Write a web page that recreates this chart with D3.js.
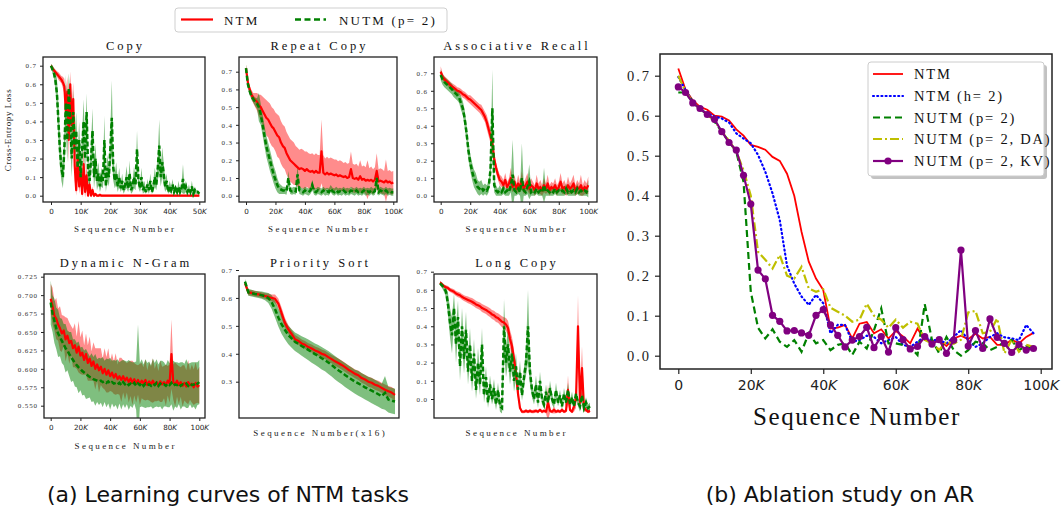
<!DOCTYPE html>
<html><head><meta charset="utf-8">
<script src="https://cdn.jsdelivr.net/npm/d3@7"></script>
<style>body{margin:0;background:#fff}svg{display:block}</style>
</head><body>
<svg id="c" width="1062" height="508"></svg>
<script>
// ---------------- DATA ----------------
// Copy (step 0.5K, 0..50K)
const copyNtm=[.70,.685,.675,.665,.655,.645,.635,.625,.61,.59, .45,.56,.30,.60,.38,.52,.16,.03,.22,.05,
 .14,.01,.17,.02,.11,0,.06,0,.03,0, .01,0,0,.005,0,0,0,0,0,0, 0,0,0,0,0,0,0,0,0,0, 0,0,0,0,0,0,0,0,0,0,
 0,0,0,0,0,0,0,0,0,0, 0,0,0,0,0,0,0,0,0,0, 0,0,0,0,0,0,0,0,0,0, 0,0,0,0,0,0,0,0,0,0,0];
const copyNtmSd=[.01,.01,.01,.015,.015,.02,.02,.02,.03,.04, .10,.08,.12,.07,.10,.09,.08,.03,.09,.04,
 .08,.02,.10,.03,.07,.01,.04,.01,.02,.01, .005,.005,.005,.005,.005,.005,.005,.005,.005,.005,
 .005,.005,.005,.005,.005,.005,.005,.005,.005,.005, .005,.005,.005,.005,.005,.005,.005,.005,.005,.005,
 .005,.005,.005,.005,.005,.005,.005,.005,.005,.005, .005,.005,.005,.005,.005,.005,.005,.005,.005,.005,
 .005,.005,.005,.005,.005,.005,.005,.005,.005,.005, .005,.005,.005,.005,.005,.005,.005,.005,.005,.005,.005];
const copyNutm=[.70,.68,.66,.62,.55,.40,.25,.15,.10,.25, .50,.30,.58,.40,.20,.45,.25,.35,.15,.30,
 .10,.25,.40,.20,.45,.15,.08,.20,.35,.10, .20,.08,.12,.05,.10,.08,.30,.05,.15,.10,
 .25,.42,.15,.08,.12,.05,.10,.04,.08,.03, .06,.10,.04,.12,.03,.05,.10,.06,.25,.08,
 .04,.10,.03,.05,.02,.06,.03,.08,.02,.05, .10,.06,.15,.27,.10,.18,.12,.05,.08,.02,
 .05,.03,.06,.02,.04,.02,.05,.02,.04,.09, .03,.05,.02,.04,.02,.05,.01,.03,.02,.02,.01];
const copyNutmSd=[.01,.02,.03,.05,.08,.10,.09,.07,.06,.10, .15,.12,.08,.14,.10,.12,.09,.10,.08,.10,
 .06,.09,.12,.08,.10,.07,.05,.08,.12,.06, .08,.05,.06,.03,.05,.04,.13,.03,.07,.05,
 .10,.20,.07,.04,.06,.03,.05,.02,.04,.02, .03,.06,.02,.07,.02,.03,.06,.03,.10,.04,
 .02,.05,.02,.03,.01,.03,.02,.04,.01,.03, .05,.03,.07,.14,.05,.08,.06,.03,.04,.01,
 .03,.02,.03,.01,.02,.01,.03,.01,.02,.08, .02,.03,.01,.02,.01,.03,.01,.02,.01,.01,.01];

// Repeat Copy (step 1.25K, 0..100K)
const rcNtm=[.72,.64,.60,.57,.55,.54,.53,.51,.50,.48, .46,.44,.43,.41,.39,.38,.36,.34,.33,.30,
 .28,.27,.24,.22,.20,.19,.18,.17,.16,.15, .155,.15,.14,.15,.14,.135,.14,.13,.14,.13,
 .13,.25,.13,.12,.13,.12,.125,.12,.115,.12, .11,.115,.11,.105,.11,.10,.105,.15,.10,.095,
 .10,.09,.11,.09,.095,.085,.09,.085,.09,.08, .09,.14,.08,.085,.08,.075,.085,.075,.08,.07,.075];
const rcNtmSd=[.02,.02,.02,.025,.03,.04,.05,.06,.07,.08, .09,.10,.10,.11,.11,.11,.11,.12,.12,.12,
 .12,.12,.12,.12,.12,.12,.12,.11,.11,.11, .11,.11,.11,.10,.10,.10,.10,.10,.10,.10,
 .10,.18,.10,.09,.09,.09,.09,.09,.09,.085, .085,.085,.085,.08,.08,.08,.08,.10,.08,.08,
 .08,.075,.09,.075,.075,.075,.11,.07,.075,.07, .07,.10,.07,.07,.07,.065,.12,.065,.065,.065,.065];
const rcNutm=[.72,.63,.59,.56,.545,.53,.52,.50,.46,.40, .34,.28,.24,.20,.16,.12,.09,.06,.04,.035,
 .03,.03,.025,.10,.03,.025,.03,.025,.12,.03, .025,.02,.03,.025,.02,.03,.06,.025,.02,.03,
 .025,.02,.03,.02,.025,.02,.04,.025,.02,.03, .02,.025,.02,.03,.02,.025,.02,.03,.025,.02,
 .03,.02,.025,.02,.03,.02,.025,.02,.03,.02, .025,.10,.02,.03,.025,.02,.03,.02,.025,.02,.02];
const rcNutmSd=[.02,.02,.02,.02,.02,.025,.03,.08,.06,.06, .06,.06,.06,.06,.055,.05,.05,.04,.03,.025,
 .02,.02,.02,.04,.02,.02,.02,.02,.05,.02, .02,.02,.02,.02,.02,.02,.03,.02,.02,.02,
 .02,.02,.02,.02,.02,.02,.02,.02,.02,.02, .02,.02,.02,.02,.02,.02,.02,.02,.02,.02,
 .02,.02,.02,.02,.02,.02,.02,.02,.02,.02, .02,.05,.02,.02,.02,.02,.02,.02,.02,.02,.02];

// Associative Recall (step 1.25K, 0..100K)
const arNtm=[.71,.68,.665,.655,.645,.635,.625,.618,.61,.60, .597,.59,.58,.575,.565,.555,.55,.54,.53,.52,
 .51,.50,.49,.47,.45,.42,.38,.34,.30,.21, .16,.12,.09,.08,.06,.09,.05,.07,.10,.05,
 .08,.04,.07,.05,.09,.04,.06,.08,.04,.06, .05,.03,.07,.04,.05,.03,.06,.04,.07,.03,
 .05,.04,.06,.03,.05,.08,.04,.05,.03,.06, .04,.05,.07,.03,.05,.04,.06,.03,.05,.04,.06];
const arNtmSd=[.03,.02,.02,.02,.02,.02,.02,.02,.02,.02, .02,.02,.02,.02,.02,.02,.025,.025,.025,.025,
 .025,.025,.03,.03,.03,.04,.04,.04,.04,.04, .03,.03,.03,.03,.03,.04,.03,.03,.06,.03,
 .04,.03,.05,.03,.05,.03,.04,.05,.03,.04, .03,.03,.05,.03,.04,.03,.04,.03,.05,.03,
 .03,.03,.04,.03,.03,.05,.03,.04,.03,.05, .03,.04,.05,.03,.04,.03,.06,.03,.04,.03,.05];
const arNutm=[.69,.665,.65,.64,.63,.62,.61,.595,.585,.575, .56,.53,.50,.44,.36,.26,.19,.14,.10,.08,
 .05,.04,.05,.03,.04,.03,.05,.15,.50,.06, .03,.02,.03,.02,.04,.02,.03,.02,.06,.12,
 .03,.02,.04,.02,.10,.03,.02,.05,.08,.02, .03,.02,.04,.02,.03,.02,.06,.02,.03,.02,
 .03,.02,.04,.02,.03,.02,.03,.02,.04,.02, .03,.02,.03,.02,.04,.02,.03,.02,.03,.02,.04];
const arNutmSd=[.03,.03,.03,.03,.03,.03,.03,.03,.03,.03, .03,.04,.04,.05,.05,.05,.05,.05,.05,.05,
 .04,.04,.04,.03,.03,.03,.03,.06,.22,.04, .03,.02,.03,.02,.03,.02,.03,.02,.04,.20,
 .03,.02,.03,.02,.20,.03,.02,.04,.10,.02, .03,.02,.03,.02,.03,.02,.10,.02,.03,.02,
 .03,.02,.03,.02,.03,.02,.03,.02,.03,.02, .03,.02,.03,.02,.03,.02,.03,.02,.03,.02,.05];

// Dynamic N-Gram (step 1.25K, 0..100K)
const dngNtm=[.695,.685,.672,.668,.66,.655,.648,.652,.64,.645, .635,.638,.628,.632,.622,.63,.618,.622,.612,.62,
 .608,.614,.604,.61,.60,.606,.598,.603,.594,.60, .592,.598,.59,.595,.588,.593,.586,.59,.585,.59,
 .584,.588,.582,.587,.581,.586,.58,.585,.579,.584, .58,.585,.578,.583,.579,.584,.578,.582,.577,.583,
 .579,.582,.578,.584,.58,.62,.582,.579,.584,.578, .582,.577,.581,.576,.582,.578,.58,.575,.581,.576,.578];
const dngNtmSd=[.02,.025,.02,.028,.022,.03,.025,.02,.03,.024, .028,.02,.026,.03,.022,.035,.025,.03,.02,.028,
 .024,.03,.02,.026,.028,.022,.03,.025,.02,.028, .024,.03,.02,.026,.022,.028,.02,.025,.03,.022,
 .026,.02,.028,.024,.03,.022,.026,.02,.028,.024, .022,.028,.02,.026,.024,.03,.022,.026,.02,.028,
 .024,.022,.028,.02,.026,.047,.024,.03,.022,.026, .02,.028,.024,.022,.03,.02,.026,.024,.028,.022,.025];
const dngNutm=[.69,.675,.665,.655,.648,.643,.638,.633,.628,.625, .62,.616,.612,.608,.605,.602,.60,.597,.595,.593,
 .591,.589,.588,.586,.585,.584,.583,.584,.582,.583, .581,.583,.58,.582,.58,.581,.579,.581,.578,.582,
 .579,.581,.578,.58,.578,.581,.577,.58,.578,.581, .577,.58,.578,.579,.577,.58,.578,.581,.577,.58,
 .578,.579,.577,.58,.578,.581,.577,.579,.578,.58, .577,.579,.578,.58,.577,.58,.578,.579,.577,.58,.582];
const dngNutmSd=[.03,.025,.03,.028,.032,.026,.03,.028,.033,.027, .03,.034,.028,.032,.03,.035,.029,.033,.03,.034,
 .031,.028,.033,.03,.035,.029,.032,.03,.034,.028, .033,.03,.035,.029,.032,.03,.034,.028,.033,.03,
 .032,.029,.034,.03,.031,.028,.033,.08,.03,.032, .029,.033,.03,.031,.028,.034,.03,.032,.029,.031,
 .033,.03,.028,.032,.03,.029,.034,.03,.031,.028, .032,.03,.029,.033,.03,.028,.031,.03,.032,.029,.03];

// Priority Sort (46 checkpoints)
const psNtm=[.652,.62,.618,.615,.613,.61,.607,.604,.60,.597, .58,.545,.51,.487,.47,.452,.446,.437,.432,.424,
 .419,.412,.407,.40,.396,.388,.381,.373,.367,.36, .352,.343,.336,.328,.323,.313,.308,.30,.296,.289,
 .285,.278,.271,.266,.261,.253];
const psNtmSd=[.008,.01,.01,.01,.01,.01,.01,.012,.012,.015, .018,.02,.018,.016,.015,.015,.014,.014,.014,.014,
 .014,.014,.015,.015,.015,.015,.015,.016,.016,.016, .016,.016,.016,.016,.017,.017,.017,.018,.018,.018,
 .018,.018,.019,.019,.02,.02];
const psNutm=[.658,.62,.617,.614,.612,.61,.606,.60,.585,.56, .53,.505,.485,.467,.455,.443,.436,.428,.421,.414,
 .406,.399,.392,.384,.377,.369,.36,.35,.341,.333, .324,.316,.308,.30,.294,.287,.28,.274,.268,.262,
 .255,.248,.26,.236,.232,.229];
const psNutmSd=[.01,.012,.012,.012,.012,.013,.014,.018,.025,.03, .032,.034,.034,.033,.033,.033,.034,.035,.036,.037,
 .038,.038,.039,.04,.04,.041,.041,.042,.042,.042, .043,.043,.043,.043,.044,.044,.044,.044,.045,.045,
 .045,.045,.06,.046,.046,.046];

// Long Copy (76 checkpoints)
const lcNtm=[.64,.63,.62,.615,.61,.60,.595,.59,.58,.575, .57,.562,.555,.55,.545,.54,.535,.528,.52,.515,
 .51,.50,.495,.49,.482,.475,.465,.46,.45,.445, .435,.425,.42,.41,.39,.33,.29,.22,.14,.03,
 -.05,-.07,-.07,-.065,-.07,-.065,-.07,-.068,-.065,-.07, -.06,-.07,-.065,-.07,-.02,-.065,-.07,-.06,-.07,-.065,
 -.07,-.06,-.07,-.065,.05,-.06,-.07,-.04,0,.40, -.02,.17,-.05,-.06,-.07,-.065];
const lcNtmSd=[.01,.01,.01,.01,.012,.012,.012,.014,.014,.015, .015,.016,.016,.017,.018,.018,.02,.02,.02,.02,
 .02,.022,.022,.022,.024,.024,.025,.025,.026,.026, .028,.03,.03,.035,.04,.05,.05,.05,.04,.03,
 .01,.008,.008,.01,.008,.01,.008,.01,.008,.01, .008,.01,.008,.01,.10,.01,.008,.02,.008,.01,
 .008,.01,.008,.01,.08,.01,.008,.03,.05,.17, .05,.12,.02,.01,.008,.01];
const lcNutm=[.636,.625,.61,.59,.52,.42,.35,.50,.30,.45, .18,.40,.22,.38,.15,.30,.10,.25,.05,.20,
 .08,.30,.02,.12,-.02,.08,0,.06,-.03,.05, -.04,-.05,.40,.20,.30,.15,.25,.10,.18,.05,
 .15,.02,.12,.20,.40,.15,.05,0,.08,-.02, .10,0,-.03,.04,-.02,.06,0,-.03,.05,-.02,
 .02,-.04,.03,-.02,.05,-.03,.01,-.04,.03,-.02, -.04,.02,-.05,-.02,-.05,-.04];
const lcNutmSd=[.01,.015,.02,.03,.06,.08,.10,.08,.10,.09, .08,.10,.08,.10,.07,.09,.06,.08,.05,.08,
 .06,.09,.04,.06,.03,.05,.03,.05,.03,.04, .03,.03,.15,.08,.10,.07,.08,.06,.07,.04,
 .06,.03,.05,.07,.20,.07,.04,.03,.05,.03, .05,.03,.02,.04,.02,.04,.03,.02,.04,.02,
 .03,.02,.03,.02,.04,.02,.03,.02,.03,.02, .03,.03,.02,.03,.02,.02];

// Ablation study on AR (every 2K, 0..98K)
const abStep=2000;
const abNTM=[.718,.665,.638,.622,.615,.600,.598,.588,.566,.550, .527,.522,.515,.497,.487,.455,.400,.310,.235,.193,
 .164,.068,.070,.077,.043,.080,.084,.056,.066,.043, .062,.048,.031,.068,.039,.037,.039,.024,.043,.050,
 .041,.055,.043,.047,.027,.027,.040,.031,.047,.057];
const abNTMh2=[.697,.664,.635,.616,.606,.598,.593,.583,.556,.543, .531,.502,.460,.406,.339,.225,.180,.148,.127,.152,
 .131,.056,.077,.077,.035,.039,.050,.047,.031,.039, .047,.027,.022,.035,.047,.039,.039,.031,.047,.064,
 .039,.022,.031,.047,.056,.046,.043,.039,.077,.056];
const abNUTM=[.658,.658,.635,.616,.604,.585,.560,.535,.510,.435, .160,.070,.043,.066,.035,.022,.039,.010,.056,.031,
 .039,.014,.027,.031,.002,.035,.018,.064,.118,.031, .031,.027,.022,.002,.129,.039,.006,.047,.014,.000,
 .014,.035,.031,.014,.022,.035,.039,.014,.024,.014];
const abDA=[.700,.660,.635,.616,.602,.588,.560,.538,.510,.464, .400,.260,.240,.218,.252,.200,.193,.222,.168,.160,
 .166,.120,.110,.100,.085,.090,.130,.100,.090,.070, .090,.070,.085,.080,.040,.030,.015,.035,.030,.040,
 .108,.112,.056,.060,.093,.006,.040,.010,.027,.022];
const abKV=[.672,.658,.632,.618,.603,.591,.560,.533,.514,.451, .379,.214,.192,.101,.086,.062,.063,.057,.051,.101,
 .115,.077,.051,.022,.039,.048,.071,.020,.048,.009, .070,.040,.017,.023,.048,.029,.040,.006,.039,.264,
 .024,.063,.018,.092,.046,.031,.008,.028,.014,.018];

const abNames=["NTM","NTM (h= 2)","NUTM (p= 2)","NUTM (p= 2, DA)","NUTM (p= 2, KV)"];
const topLegend=["NTM","NUTM (p= 2)"];

// ---------------- DRAW ----------------
const svg=d3.select("#c");
const SERIF="'Liberation Serif','Times New Roman',serif";
const SANS="'DejaVu Sans',Verdana,sans-serif";
const RED="#ff0000", GREEN="#008000";

function fmtK(sel,size){
  sel.selectAll(".tick text").each(function(d){
    const t=d3.select(this); t.text(null).attr("font-family",SANS).attr("font-size",size).attr("fill","#222");
    if(d===0){t.text("0");return;}
    t.append("tspan").text(d/1000);
    t.append("tspan").attr("font-style","italic").text("K");
  });
}

const panels=[
 {title:"Copy",ntm:copyNtm,ntmSd:copyNtmSd,nutm:copyNutm,nutmSd:copyNutmSd,step:500,
  frame:[43,57,205,202],xd:[0,50000],xr:[51,199.3],yd:[0,0.7],yr:[195.7,65.7],
  yt:d3.range(0,0.71,0.1),yf:".1f",xt:d3.range(0,50001,10000),xLabel:"Sequence Number",xLabelY:232,titleY:50},
 {title:"Repeat Copy",ntm:rcNtm,ntmSd:rcNtmSd,nutm:rcNutm,nutmSd:rcNutmSd,step:1250,
  frame:[239,57,397,202],xd:[0,100000],xr:[246,393.3],yd:[0,0.7],yr:[195.7,71.7],
  yt:d3.range(0,0.71,0.1),yf:".1f",xt:d3.range(0,100001,20000),xLabel:"Sequence Number",xLabelY:232,titleY:50},
 {title:"Associative Recall",ntm:arNtm,ntmSd:arNtmSd,nutm:arNutm,nutmSd:arNutmSd,step:1250,
  frame:[434,57,597,202],xd:[0,100000],xr:[440.7,588.3],yd:[0,0.7],yr:[195.7,73.3],
  yt:d3.range(0,0.71,0.1),yf:".1f",xt:d3.range(0,100001,20000),xLabel:"Sequence Number",xLabelY:232,titleY:50},
 {title:"Dynamic N-Gram",ntm:dngNtm,ntmSd:dngNtmSd,nutm:dngNutm,nutmSd:dngNutmSd,step:1250,
  frame:[44,274,205,418],xd:[0,100000],xr:[50.7,199.3],yd:[0.55,0.725],yr:[405.7,276.7],
  yt:d3.range(0.55,0.7251,0.025),yf:".3f",xt:d3.range(0,100001,20000),xLabel:"Sequence Number",xLabelY:449,titleY:267},
 {title:"Priority Sort",ntm:psNtm,ntmSd:psNtmSd,nutm:psNutm,nutmSd:psNutmSd,step:1,
  frame:[239,276,399,418],xd:[0,45],xr:[245,395],yd:[0.3,0.7],yr:[381.7,270],
  yt:[0.3,0.4,0.5,0.6,0.7],yf:".1f",xt:[],xLabel:"Sequence Number(x16)",xLabelY:436,titleY:267},
 {title:"Long Copy",ntm:lcNtm,ntmSd:lcNtmSd,nutm:lcNutm,nutmSd:lcNutmSd,step:1,
  frame:[434,274,597,418],xd:[0,75],xr:[440,590],yd:[0,0.7],yr:[399,271.7],
  yt:d3.range(0,0.71,0.1),yf:".1f",xt:[],xLabel:"Sequence Number",xLabelY:436,titleY:267}
];

panels.forEach((p,pi)=>{
  const [fx0,fy0,fx1,fy1]=p.frame;
  const x=d3.scaleLinear().domain(p.xd).range(p.xr);
  const y=d3.scaleLinear().domain(p.yd).range(p.yr);
  const g=svg.append("g");
  const cid="clip"+pi;
  g.append("clipPath").attr("id",cid).append("rect").attr("x",fx0).attr("y",fy0).attr("width",fx1-fx0).attr("height",fy1-fy0);
  const dg=g.append("g").attr("clip-path",`url(#${cid})`);
  const area=(m,s)=>d3.area().x((d,i)=>x(i*p.step)).y0((d,i)=>y(m[i]-s[i])).y1((d,i)=>y(m[i]+s[i]))(m);
  const line=m=>d3.line().x((d,i)=>x(i*p.step)).y(d=>y(d))(m);
  dg.append("path").attr("d",area(p.ntm,p.ntmSd)).attr("fill",RED).attr("fill-opacity",0.45);
  dg.append("path").attr("d",area(p.nutm,p.nutmSd)).attr("fill",GREEN).attr("fill-opacity",0.5);
  dg.append("path").attr("d",line(p.ntm)).attr("fill","none").attr("stroke",RED).attr("stroke-width",2.2).attr("stroke-linejoin","round");
  dg.append("path").attr("d",line(p.nutm)).attr("fill","none").attr("stroke",GREEN).attr("stroke-width",2.5).attr("stroke-dasharray","5,2.5");
  g.append("rect").attr("x",fx0).attr("y",fy0).attr("width",fx1-fx0).attr("height",fy1-fy0)
    .attr("fill","none").attr("stroke","#222").attr("stroke-width",1.3);
  const ya=g.append("g").attr("transform",`translate(${fx0},0)`)
    .call(d3.axisLeft(y).tickValues(p.yt).tickFormat(d3.format(p.yf)).tickSize(3).tickPadding(3));
  ya.select(".domain").remove();
  ya.selectAll(".tick line").attr("stroke","#222").attr("stroke-width",1);
  ya.selectAll(".tick text").attr("font-family",SERIF).attr("font-size",7).attr("letter-spacing",0.9).attr("fill","#333");
  const xa=g.append("g").attr("transform",`translate(0,${fy1})`)
    .call(d3.axisBottom(x).tickValues(p.xt).tickSize(3).tickPadding(4));
  xa.select(".domain").remove();
  xa.selectAll(".tick line").attr("stroke","#222");
  fmtK(xa,7.2);
  const cx=(fx0+fx1)/2;
  g.append("text").attr("x",cx+1.5).attr("y",p.titleY).attr("text-anchor","middle")
    .attr("font-family",SERIF).attr("font-size",12.5).attr("letter-spacing",3).attr("fill","#111").text(p.title);
  g.append("text").attr("x",cx+1.2).attr("y",p.xLabelY).attr("text-anchor","middle")
    .attr("font-family",SERIF).attr("font-size",9).attr("letter-spacing",2.4).attr("fill","#222").text(p.xLabel);
});

svg.append("text").attr("transform","translate(11,130) rotate(-90)").attr("text-anchor","middle")
  .attr("font-family",SERIF).attr("font-size",9).attr("letter-spacing",0.6).attr("fill","#222").text("Cross-Entropy Loss");

// top legend
{
  const lg=svg.append("g");
  lg.append("rect").attr("x",175).attr("y",8).attr("width",272).attr("height",24).attr("rx",3)
    .attr("fill","#fff").attr("stroke","#cfcfcf").attr("stroke-width",1);
  lg.append("line").attr("x1",181).attr("x2",213).attr("y1",19.5).attr("y2",19.5).attr("stroke",RED).attr("stroke-width",2.2);
  lg.append("line").attr("x1",295).attr("x2",326).attr("y1",19.5).attr("y2",19.5).attr("stroke",GREEN).attr("stroke-width",2.4).attr("stroke-dasharray","6,3.5");
  lg.append("text").attr("x",224).attr("y",24.5).attr("font-family",SERIF).attr("font-size",13).attr("letter-spacing",2.2).attr("fill","#111").text(topLegend[0]);
  lg.append("text").attr("x",339).attr("y",24.5).attr("font-family",SERIF).attr("font-size",13).attr("letter-spacing",2.2).attr("fill","#111").text(topLegend[1]);
}

// right panel
{
  const fx0=660,fy0=54,fx1=1052,fy1=369;
  const x=d3.scaleLinear().domain([0,100000]).range([678.3,1040.7]);
  const y=d3.scaleLinear().domain([0,0.7]).range([355.7,75.7]);
  const g=svg.append("g");
  const series=[
    {v:abNTM,c:"#ff0000",w:1.8,dash:null},
    {v:abNTMh2,c:"#0000ff",w:2.2,dash:"1,3.2",cap:"round"},
    {v:abNUTM,c:"#008000",w:2.2,dash:"7,4"},
    {v:abDA,c:"#bfbf00",w:2.2,dash:"9,3,2,3"},
    {v:abKV,c:"#800080",w:2.2,dash:null,marker:true}
  ];
  const line=d3.line().x((d,i)=>x(i*abStep)).y(d=>y(d));
  series.forEach(s=>{
    const p=g.append("path").attr("d",line(s.v)).attr("fill","none").attr("stroke",s.c).attr("stroke-width",s.w);
    if(s.dash) p.attr("stroke-dasharray",s.dash);
    if(s.cap) p.attr("stroke-linecap",s.cap);
    if(s.marker) g.selectAll(null).data(s.v).enter().append("circle")
      .attr("cx",(d,i)=>x(i*abStep)).attr("cy",d=>y(d)).attr("r",3.6).attr("fill",s.c);
  });
  g.append("rect").attr("x",fx0).attr("y",fy0).attr("width",fx1-fx0).attr("height",fy1-fy0)
    .attr("fill","none").attr("stroke","#222").attr("stroke-width",1.5);
  const ya=g.append("g").attr("transform",`translate(${fx0},0)`)
    .call(d3.axisLeft(y).tickValues(d3.range(0,0.71,0.1)).tickFormat(d3.format(".1f")).tickSize(5).tickPadding(4));
  ya.select(".domain").remove();
  ya.selectAll(".tick line").attr("stroke","#222").attr("stroke-width",1.2);
  ya.selectAll(".tick text").attr("font-family",SERIF).attr("font-size",14.5).attr("letter-spacing",2).attr("fill","#222");
  const xa=g.append("g").attr("transform",`translate(0,${fy1})`)
    .call(d3.axisBottom(x).tickValues(d3.range(0,100001,20000)).tickSize(5).tickPadding(6));
  xa.select(".domain").remove();
  xa.selectAll(".tick line").attr("stroke","#222").attr("stroke-width",1.2);
  fmtK(xa,14);
  g.append("text").attr("x",857).attr("y",425).attr("text-anchor","middle")
    .attr("font-family",SERIF).attr("font-size",25).attr("letter-spacing",1.6).attr("fill","#111").text("Sequence Number");
  const lg=g.append("g");
  lg.append("rect").attr("x",871).attr("y",65).attr("width",176).attr("height",114).attr("rx",3).attr("fill","#9a9a9a").attr("opacity",0.6);
  lg.append("rect").attr("x",868).attr("y",62).attr("width",176).attr("height",114).attr("rx",3).attr("fill","#fff").attr("stroke","#cccccc");
  const ly=[74,96,117.5,139,161];
  series.forEach((s,i)=>{
    const l=lg.append("line").attr("x1",873).attr("x2",903).attr("y1",ly[i]).attr("y2",ly[i]).attr("stroke",s.c).attr("stroke-width",s.w);
    if(s.dash) l.attr("stroke-dasharray",s.dash);
    if(s.cap) l.attr("stroke-linecap",s.cap);
    if(s.marker) lg.append("circle").attr("cx",888).attr("cy",ly[i]).attr("r",3.6).attr("fill",s.c);
    lg.append("text").attr("x",914).attr("y",ly[i]+5).attr("font-family",SERIF).attr("font-size",14.5)
      .attr("letter-spacing",1.8).attr("fill","#111").text(abNames[i]);
  });
}

svg.append("text").attr("x",228).attr("y",502).attr("text-anchor","middle").attr("font-family",SANS)
  .attr("font-size",22).attr("fill","#111").text("(a) Learning curves of NTM tasks");
svg.append("text").attr("x",840).attr("y",502).attr("text-anchor","middle").attr("font-family",SANS)
  .attr("font-size",22).attr("fill","#111").text("(b) Ablation study on AR");
</script>
</body></html>
